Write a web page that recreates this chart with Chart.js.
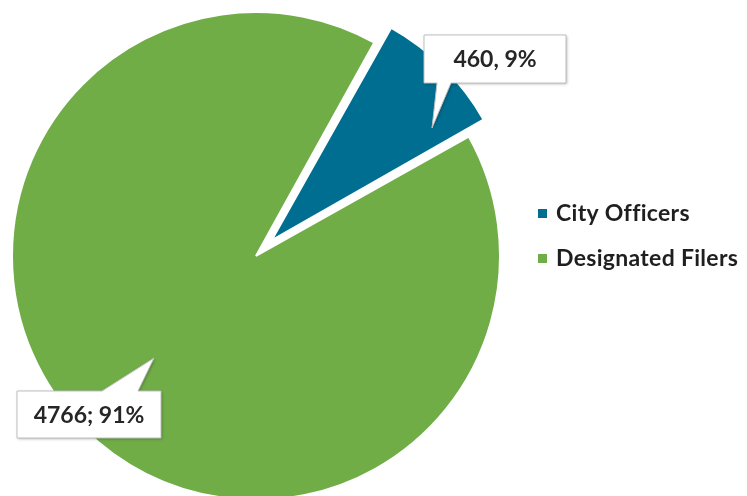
<!DOCTYPE html>
<html>
<head>
<meta charset="utf-8">
<title>Filers</title>
<script src="https://cdn.jsdelivr.net/npm/chart.js@4.4.0/dist/chart.umd.min.js"></script>
<style>
  html, body { margin: 0; padding: 0; background: #fff; }
  #wrap { position: relative; width: 747px; height: 496px; overflow: hidden; }
</style>
</head>
<body>
<div id="wrap"><canvas id="filerChart" width="747" height="504"></canvas></div>
<script>
// Chart data
const categories = ['City Officers', 'Designated Filers'];
const filerCounts = [460, 4766];
const labelSeparators = [', ', '; '];
const sliceColors = ['#006E91', '#70AD47'];

const total = filerCounts.reduce((a, b) => a + b, 0);

// Exploded slice distance in px (Chart.js moves arcs by offset / 4)
const explode = 22;

// Callout boxes for the data labels (box = x, y, w, h)
const calloutShapes = [
  { box: [424, 35, 142, 48], base: [437, 451], tip: [432, 128], side: 'bottom' },
  { box: [17, 391, 144, 47], base: [102, 138], tip: [154, 358], side: 'top' }
];

// keep the exploded slice the same radius as the rest of the pie
const fixExplode = {
  id: 'fixExplode',
  afterDatasetsUpdate(chart) {
    const arc = chart.getDatasetMeta(0).data[0];
    const fix = 1 - Math.sin(Math.min(Math.PI, arc.circumference));
    arc.outerRadius = arc.outerRadius - explode * fix;
  }
};

const calloutPlugin = {
  id: 'callouts',
  afterDatasetsDraw(chart) {
    const ctx = chart.ctx;
    const values = chart.data.datasets[0].data;
    ctx.save();
    values.forEach((v, i) => {
      const c = calloutShapes[i];
      const [x, y, w, h] = c.box;
      ctx.beginPath();
      if (c.side === 'bottom') {
        ctx.moveTo(x, y);
        ctx.lineTo(x + w, y);
        ctx.lineTo(x + w, y + h);
        ctx.lineTo(c.base[1], y + h);
        ctx.lineTo(c.tip[0], c.tip[1]);
        ctx.lineTo(c.base[0], y + h);
        ctx.lineTo(x, y + h);
      } else {
        ctx.moveTo(x, y);
        ctx.lineTo(c.base[0], y);
        ctx.lineTo(c.tip[0], c.tip[1]);
        ctx.lineTo(c.base[1], y);
        ctx.lineTo(x + w, y);
        ctx.lineTo(x + w, y + h);
        ctx.lineTo(x, y + h);
      }
      ctx.closePath();
      ctx.shadowColor = 'rgba(0,0,0,0.3)';
      ctx.shadowBlur = 3;
      ctx.shadowOffsetX = 1;
      ctx.shadowOffsetY = 1;
      ctx.fillStyle = '#ffffff';
      ctx.fill();
      ctx.shadowColor = 'transparent';
      ctx.lineWidth = 1;
      ctx.strokeStyle = '#bfbfbf';
      ctx.stroke();

      const pct = Math.round(v / total * 100);
      ctx.fillStyle = '#262626';
      ctx.font = 'bold 23px Lato';
      ctx.textAlign = 'center';
      ctx.textBaseline = 'middle';
      ctx.fillText(v + labelSeparators[i] + pct + '%', x + w / 2, y + h / 2 + 1);
    });
    ctx.restore();
  }
};

// Legend drawn on the right
const sideLegend = {
  id: 'sideLegend',
  afterDraw(chart) {
    const ctx = chart.ctx;
    ctx.save();
    ctx.font = 'bold 23px Lato';
    ctx.letterSpacing = '0.3px';
    ctx.textAlign = 'left';
    ctx.textBaseline = 'middle';
    chart.data.labels.forEach((label, i) => {
      const cy = 213 + i * 45;
      ctx.fillStyle = chart.data.datasets[0].backgroundColor[i];
      ctx.fillRect(538, cy - 4, 9, 9);
      ctx.fillStyle = '#1f1f1f';
      ctx.fillText(label, 556, cy + 1);
    });
    ctx.restore();
  }
};

const ctx = document.getElementById('filerChart').getContext('2d');
const filerChart = new Chart(ctx, {
  type: 'pie',
  data: {
    labels: categories,
    datasets: [{
      data: filerCounts,
      backgroundColor: sliceColors,
      borderColor: '#ffffff',
      borderWidth: 2,
      offset: [explode * 4, 0],
      clip: false
    }]
  },
  options: {
    responsive: false,
    animation: false,
    rotation: 29,
    radius: 244,
    layout: { padding: { left: 12, right: 247, top: 12, bottom: 4 } },
    plugins: {
      legend: { display: false },
      tooltip: { enabled: false }
    }
  },
  plugins: [fixExplode, calloutPlugin, sideLegend]
});
</script>
</body>
</html>
